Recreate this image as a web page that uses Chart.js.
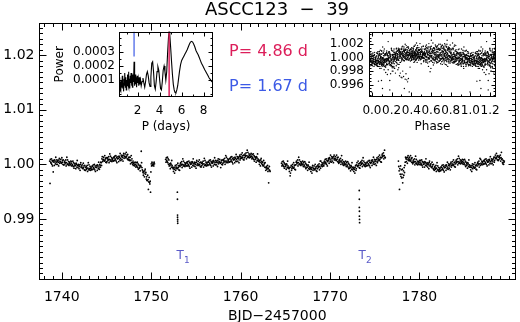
<!DOCTYPE html>
<html>
<head>
<meta charset="utf-8">
<script src="https://cdn.jsdelivr.net/npm/chart.js@4.4.1/dist/chart.umd.min.js"></script>
<style>
  body { margin: 0; background: #fff; }
  #wrap { position: relative; width: 520px; height: 322px; background: #fff; }
  canvas { position: absolute; top: 0; }
</style>
</head>
<body>
<div id="wrap">
  <canvas id="main" width="520" height="322" style="left:0"></canvas>
  <canvas id="per" width="181" height="140" style="left:49px"></canvas>
  <canvas id="pha" width="200" height="140" style="left:320px"></canvas>
</div>
<script>
// light curve, four segments. time = BJD-2457000, flux given as (flux - 1) x 1e4
const timeA = [1738.65,1738.69,1738.73,1738.77,1738.81,1738.85,1738.89,1738.93,1738.97,1739.01,
  1739.05,1739.09,1739.13,1739.17,1739.21,1739.25,1739.29,1739.33,1739.37,1739.41,
  1739.45,1739.49,1739.53,1739.57,1739.61,1739.65,1739.69,1739.73,1739.77,1739.81,
  1739.85,1739.89,1739.93,1739.97,1740.01,1740.05,1740.09,1740.13,1740.17,1740.21,
  1740.25,1740.29,1740.33,1740.37,1740.41,1740.45,1740.49,1740.53,1740.57,1740.61,
  1740.65,1740.69,1740.73,1740.77,1740.81,1740.85,1740.89,1740.93,1740.97,1741.01,
  1741.05,1741.09,1741.13,1741.17,1741.21,1741.25,1741.29,1741.33,1741.37,1741.41,
  1741.45,1741.49,1741.53,1741.57,1741.61,1741.65,1741.69,1741.73,1741.77,1741.81,
  1741.85,1741.89,1741.93,1741.97,1742.01,1742.05,1742.09,1742.13,1742.17,1742.21,
  1742.25,1742.29,1742.33,1742.37,1742.41,1742.45,1742.49,1742.53,1742.57,1742.61,
  1742.65,1742.69,1742.73,1742.77,1742.81,1742.85,1742.89,1742.93,1742.97,1743.01,
  1743.05,1743.09,1743.13,1743.17,1743.21,1743.25,1743.29,1743.33,1743.37,1743.41,
  1743.45,1743.49,1743.53,1743.57,1743.61,1743.65,1743.69,1743.73,1743.77,1743.81,
  1743.85,1743.89,1743.93,1743.97,1744.01,1744.05,1744.09,1744.13,1744.17,1744.21,
  1744.25,1744.29,1744.33,1744.37,1744.41,1744.45,1744.49,1744.53,1744.57,1744.61,
  1744.65,1744.69,1744.73,1744.77,1744.81,1744.85,1744.89,1744.93,1744.97,1745.01,
  1745.05,1745.09,1745.13,1745.17,1745.21,1745.25,1745.29,1745.33,1745.37,1745.41,
  1745.45,1745.49,1745.53,1745.57,1745.61,1745.65,1745.69,1745.73,1745.77,1745.81,
  1745.85,1745.89,1745.93,1745.97,1746.01,1746.05,1746.09,1746.13,1746.17,1746.21,
  1746.25,1746.29,1746.33,1746.37,1746.41,1746.45,1746.49,1746.53,1746.57,1746.61,
  1746.65,1746.69,1746.73,1746.77,1746.81,1746.85,1746.89,1746.93,1746.97,1747.01,
  1747.05,1747.09,1747.13,1747.17,1747.21,1747.25,1747.29,1747.33,1747.37,1747.41,
  1747.45,1747.49,1747.53,1747.57,1747.61,1747.65,1747.69,1747.73,1747.77,1747.81,
  1747.85,1747.89,1747.93,1747.97,1748.01,1748.05,1748.09,1748.13,1748.17,1748.21,
  1748.25,1748.29,1748.33,1748.37,1748.41,1748.45,1748.49,1748.53,1748.57,1748.61,
  1748.65,1748.69,1748.73,1748.77,1748.81,1748.85,1748.89,1748.93,1748.97,1749.01,
  1749.05,1749.09,1749.13,1749.17,1749.21,1749.25,1749.29,1749.33,1749.37,1749.41,
  1749.45,1749.49,1749.53,1749.57,1749.61,1749.65,1749.69,1749.73,1749.77,1749.81,
  1749.85,1749.89,1749.93,1749.97,1750.01,1750.05,1750.09,1750.13,1750.17,1750.21,
  1750.25,1750.29,1750.33,1750.37];
const fluxA = [6,-35,9,4,2,10,0,7,-3,5,
  -14,7,4,-2,8,6,1,13,4,0,
  8,5,0,7,4,-3,8,11,2,5,
  5,9,3,2,12,4,7,0,8,-1,
  -1,4,6,1,3,8,-3,3,13,0,
  8,1,-1,5,-2,2,4,0,-1,6,
  2,-3,5,0,-2,6,-4,3,-7,1,
  -3,1,-2,-8,2,0,-5,7,-2,-6,
  0,-3,-8,-1,-4,-11,0,3,-6,-3,
  -5,-1,-7,-8,2,-6,-3,-10,-2,-11,
  -11,-6,-4,-9,-7,-2,-13,-7,3,-10,
  -1,-8,-10,-4,-11,-7,-5,-9,-10,-3,
  -4,-9,-1,-6,-8,0,-10,-3,-13,-5,
  -6,-2,-5,-11,-1,-3,-8,4,-5,-9,
  0,-2,-5,4,3,-2,10,14,5,8,
  9,13,7,6,16,8,11,4,12,3,
  5,10,12,7,9,14,3,9,19,6,
  15,8,6,12,5,9,11,7,6,13,
  12,7,15,10,8,16,6,13,3,11,
  10,14,11,5,15,13,8,20,11,7,
  17,14,9,16,13,6,17,20,11,14,
  15,19,13,12,22,14,17,10,18,9,
  8,12,13,7,8,13,1,7,16,3,
  10,3,0,6,-2,2,3,-1,-3,4,
  0,-5,3,-2,-4,4,-6,1,-9,-1,
  -7,-3,-6,-12,-2,-4,24,3,-6,-10,
  -12,-15,-20,-13,-16,-23,-12,-9,-18,-15,
  -27,-23,-29,-30,-20,-28,-46,-32,-24,-33,
  -36,-31,-51,-14,1,-3,4,-2,-1,2,
  0,-3,4,1];

const timeB = [1751.62,1751.66,1751.70,1751.74,1751.78,1751.82,1751.86,1751.90,1751.94,1751.98,
  1752.02,1752.06,1752.10,1752.14,1752.18,1752.22,1752.26,1752.30,1752.34,1752.38,
  1752.42,1752.46,1752.50,1752.54,1752.58,1752.62,1752.66,1752.70,1752.74,1752.78,
  1752.82,1752.86,1752.90,1752.94,1752.98,1753.02,1753.06,1753.10,1753.14,1753.18,
  1753.22,1753.26,1753.30,1753.34,1753.38,1753.42,1753.46,1753.50,1753.54,1753.58,
  1753.62,1753.66,1753.70,1753.74,1753.78,1753.82,1753.86,1753.90,1753.94,1753.98,
  1754.02,1754.06,1754.10,1754.14,1754.18,1754.22,1754.26,1754.30,1754.34,1754.38,
  1754.42,1754.46,1754.50,1754.54,1754.58,1754.62,1754.66,1754.70,1754.74,1754.78,
  1754.82,1754.86,1754.90,1754.94,1754.98,1755.02,1755.06,1755.10,1755.14,1755.18,
  1755.22,1755.26,1755.30,1755.34,1755.38,1755.42,1755.46,1755.50,1755.54,1755.58,
  1755.62,1755.66,1755.70,1755.74,1755.78,1755.82,1755.86,1755.90,1755.94,1755.98,
  1756.02,1756.06,1756.10,1756.14,1756.18,1756.22,1756.26,1756.30,1756.34,1756.38,
  1756.42,1756.46,1756.50,1756.54,1756.58,1756.62,1756.66,1756.70,1756.74,1756.78,
  1756.82,1756.86,1756.90,1756.94,1756.98,1757.02,1757.06,1757.10,1757.14,1757.18,
  1757.22,1757.26,1757.30,1757.34,1757.38,1757.42,1757.46,1757.50,1757.54,1757.58,
  1757.62,1757.66,1757.70,1757.74,1757.78,1757.82,1757.86,1757.90,1757.94,1757.98,
  1758.02,1758.06,1758.10,1758.14,1758.18,1758.22,1758.26,1758.30,1758.34,1758.38,
  1758.42,1758.46,1758.50,1758.54,1758.58,1758.62,1758.66,1758.70,1758.74,1758.78,
  1758.82,1758.86,1758.90,1758.94,1758.98,1759.02,1759.06,1759.10,1759.14,1759.18,
  1759.22,1759.26,1759.30,1759.34,1759.38,1759.42,1759.46,1759.50,1759.54,1759.58,
  1759.62,1759.66,1759.70,1759.74,1759.78,1759.82,1759.86,1759.90,1759.94,1759.98,
  1760.02,1760.06,1760.10,1760.14,1760.18,1760.22,1760.26,1760.30,1760.34,1760.38,
  1760.42,1760.46,1760.50,1760.54,1760.58,1760.62,1760.66,1760.70,1760.74,1760.78,
  1760.82,1760.86,1760.90,1760.94,1760.98,1761.02,1761.06,1761.10,1761.14,1761.18,
  1761.22,1761.26,1761.30,1761.34,1761.38,1761.42,1761.46,1761.50,1761.54,1761.58,
  1761.62,1761.66,1761.70,1761.74,1761.78,1761.82,1761.86,1761.90,1761.94,1761.98,
  1762.02,1762.06,1762.10,1762.14,1762.18,1762.22,1762.26,1762.30,1762.34,1762.38,
  1762.42,1762.46,1762.50,1762.54,1762.58,1762.62,1762.66,1762.70,1762.74,1762.78,
  1762.82,1762.86,1762.90,1762.94,1762.98,1763.02,1763.06,1763.10,1763.14,1763.18,
  1763.22,1763.26,1763.30];
const fluxB = [9,4,12,7,5,13,3,10,0,8,
  -3,1,-2,-8,2,0,-5,7,-2,-6,
  -5,-8,-13,-6,-9,-16,-5,-2,-11,-8,
  -5,-1,-7,-8,2,-6,-3,-10,-2,-11,
  -4,1,3,-2,0,5,-6,0,10,-3,
  6,-1,-3,3,-4,0,2,-2,-3,4,
  2,-3,5,0,-2,6,-4,3,-7,1,
  0,4,1,-5,5,3,-2,10,1,-3,
  4,1,-4,3,0,-7,4,7,-2,1,
  1,5,-1,-2,8,0,3,-4,4,-5,
  -3,2,4,-1,1,6,-5,1,11,-2,
  7,0,-2,4,-3,1,3,-1,-2,5,
  4,-1,7,2,0,8,-2,5,-5,3,
  2,6,3,-3,7,5,0,12,3,-1,
  7,4,-1,6,3,-4,7,10,1,4,
  5,9,3,2,-6,4,7,0,8,-1,
  2,7,9,4,6,11,0,6,16,3,
  13,6,4,10,3,7,9,5,4,11,
  10,5,13,8,6,14,4,11,1,9,
  8,12,9,3,13,11,6,18,9,5,
  14,11,6,13,10,3,14,17,8,11,
  14,18,12,11,21,13,16,9,17,8,
  12,17,19,14,16,21,10,16,26,13,
  22,15,13,19,12,16,18,14,13,20,
  15,10,18,13,11,19,9,16,6,14,
  9,13,10,4,14,12,7,19,10,6,
  8,5,0,7,4,-3,8,11,2,5,
  0,4,-2,-3,7,-1,2,-5,3,-6,
  -11,-6,-4,-9,-7,-2,-13,-7,-34,-10,
  -4,-11,-13];

const timeC = [1764.58,1764.62,1764.66,1764.70,1764.74,1764.78,1764.82,1764.86,1764.90,1764.94,
  1764.98,1765.02,1765.06,1765.10,1765.14,1765.18,1765.22,1765.26,1765.30,1765.34,
  1765.38,1765.42,1765.46,1765.50,1765.54,1765.58,1765.62,1765.66,1765.70,1765.74,
  1765.78,1765.82,1765.86,1765.90,1765.94,1765.98,1766.02,1766.06,1766.10,1766.14,
  1766.18,1766.22,1766.26,1766.30,1766.34,1766.38,1766.42,1766.46,1766.50,1766.54,
  1766.58,1766.62,1766.66,1766.70,1766.74,1766.78,1766.82,1766.86,1766.90,1766.94,
  1766.98,1767.02,1767.06,1767.10,1767.14,1767.18,1767.22,1767.26,1767.30,1767.34,
  1767.38,1767.42,1767.46,1767.50,1767.54,1767.58,1767.62,1767.66,1767.70,1767.74,
  1767.78,1767.82,1767.86,1767.90,1767.94,1767.98,1768.02,1768.06,1768.10,1768.14,
  1768.18,1768.22,1768.26,1768.30,1768.34,1768.38,1768.42,1768.46,1768.50,1768.54,
  1768.58,1768.62,1768.66,1768.70,1768.74,1768.78,1768.82,1768.86,1768.90,1768.94,
  1768.98,1769.02,1769.06,1769.10,1769.14,1769.18,1769.22,1769.26,1769.30,1769.34,
  1769.38,1769.42,1769.46,1769.50,1769.54,1769.58,1769.62,1769.66,1769.70,1769.74,
  1769.78,1769.82,1769.86,1769.90,1769.94,1769.98,1770.02,1770.06,1770.10,1770.14,
  1770.18,1770.22,1770.26,1770.30,1770.34,1770.38,1770.42,1770.46,1770.50,1770.54,
  1770.58,1770.62,1770.66,1770.70,1770.74,1770.78,1770.82,1770.86,1770.90,1770.94,
  1770.98,1771.02,1771.06,1771.10,1771.14,1771.18,1771.22,1771.26,1771.30,1771.34,
  1771.38,1771.42,1771.46,1771.50,1771.54,1771.58,1771.62,1771.66,1771.70,1771.74,
  1771.78,1771.82,1771.86,1771.90,1771.94,1771.98,1772.02,1772.06,1772.10,1772.14,
  1772.18,1772.22,1772.26,1772.30,1772.34,1772.38,1772.42,1772.46,1772.50,1772.54,
  1772.58,1772.62,1772.66,1772.70,1772.74,1772.78,1772.82,1772.86,1772.90,1772.94,
  1772.98,1773.02,1773.06,1773.10,1773.14,1773.18,1773.22,1773.26,1773.30,1773.34,
  1773.38,1773.42,1773.46,1773.50,1773.54,1773.58,1773.62,1773.66,1773.70,1773.74,
  1773.78,1773.82,1773.86,1773.90,1773.94,1773.98,1774.02,1774.06,1774.10,1774.14,
  1774.18,1774.22,1774.26,1774.30,1774.34,1774.38,1774.42,1774.46,1774.50,1774.54,
  1774.58,1774.62,1774.66,1774.70,1774.74,1774.78,1774.82,1774.86,1774.90,1774.94,
  1774.98,1775.02,1775.06,1775.10,1775.14,1775.18,1775.22,1775.26,1775.30,1775.34,
  1775.38,1775.42,1775.46,1775.50,1775.54,1775.58,1775.62,1775.66,1775.70,1775.74,
  1775.78,1775.82,1775.86,1775.90,1775.94,1775.98,1776.02,1776.06,1776.10,1776.14,
  1776.18];
const fluxC = [2,-3,5,0,-2,6,-4,3,-7,1,
  -4,0,-3,-9,1,-1,-6,6,-3,-7,
  -5,-8,-13,-6,-21,-16,-5,-2,-11,-8,
  -4,0,-6,-7,3,-5,-2,-9,-1,-10,
  -1,4,6,1,3,8,-3,3,13,0,
  8,1,-1,5,-2,2,4,0,-1,6,
  1,-4,4,-1,-3,5,-5,2,-8,0,
  -6,-2,-5,-11,-1,-3,-8,4,-5,-9,
  -5,-8,-13,-6,-9,-16,-5,-2,-11,-8,
  -7,-3,-9,-10,0,-8,-5,-12,-4,-13,
  -8,-3,-1,-6,-4,1,-10,-4,6,-7,
  6,-1,-3,3,-4,0,2,-2,-3,4,
  6,1,9,4,2,10,0,7,-3,5,
  7,11,8,2,12,10,5,17,8,4,
  14,11,6,13,10,3,14,17,8,11,
  10,14,8,7,17,9,12,5,13,4,
  2,7,9,4,6,11,0,6,16,3,
  8,1,-1,5,-2,2,4,0,-1,6,
  1,-4,4,-1,-3,5,-5,2,-8,0,
  -7,-3,-6,-12,-2,-4,-9,3,-6,-10,
  -5,-8,-13,-6,-9,-16,-5,-2,-11,-8,
  -1,3,-3,-4,6,-2,1,-6,2,-7,
  -2,3,5,0,2,7,-4,2,12,-1,
  6,-1,-3,3,-4,0,2,-2,-3,4,
  3,-2,6,1,-1,7,-3,4,-6,2,
  3,7,4,-2,8,6,1,13,4,0,
  9,6,1,8,5,-2,9,12,3,6,
  10,14,8,7,17,9,12,5,13,4,
  12,17,19,14,16,21,10,16,26,13,
  12];

const timeD = [1777.65,1777.69,1777.73,1777.77,1777.81,1777.85,1777.89,1777.93,1777.97,1778.01,
  1778.05,1778.09,1778.13,1778.17,1778.21,1778.25,1778.29,1778.33,1778.37,1778.41,
  1778.45,1778.49,1778.53,1778.57,1778.61,1778.65,1778.69,1778.73,1778.77,1778.81,
  1778.85,1778.89,1778.93,1778.97,1779.01,1779.05,1779.09,1779.13,1779.17,1779.21,
  1779.25,1779.29,1779.33,1779.37,1779.41,1779.45,1779.49,1779.53,1779.57,1779.61,
  1779.65,1779.69,1779.73,1779.77,1779.81,1779.85,1779.89,1779.93,1779.97,1780.01,
  1780.05,1780.09,1780.13,1780.17,1780.21,1780.25,1780.29,1780.33,1780.37,1780.41,
  1780.45,1780.49,1780.53,1780.57,1780.61,1780.65,1780.69,1780.73,1780.77,1780.81,
  1780.85,1780.89,1780.93,1780.97,1781.01,1781.05,1781.09,1781.13,1781.17,1781.21,
  1781.25,1781.29,1781.33,1781.37,1781.41,1781.45,1781.49,1781.53,1781.57,1781.61,
  1781.65,1781.69,1781.73,1781.77,1781.81,1781.85,1781.89,1781.93,1781.97,1782.01,
  1782.05,1782.09,1782.13,1782.17,1782.21,1782.25,1782.29,1782.33,1782.37,1782.41,
  1782.45,1782.49,1782.53,1782.57,1782.61,1782.65,1782.69,1782.73,1782.77,1782.81,
  1782.85,1782.89,1782.93,1782.97,1783.01,1783.05,1783.09,1783.13,1783.17,1783.21,
  1783.25,1783.29,1783.33,1783.37,1783.41,1783.45,1783.49,1783.53,1783.57,1783.61,
  1783.65,1783.69,1783.73,1783.77,1783.81,1783.85,1783.89,1783.93,1783.97,1784.01,
  1784.05,1784.09,1784.13,1784.17,1784.21,1784.25,1784.29,1784.33,1784.37,1784.41,
  1784.45,1784.49,1784.53,1784.57,1784.61,1784.65,1784.69,1784.73,1784.77,1784.81,
  1784.85,1784.89,1784.93,1784.97,1785.01,1785.05,1785.09,1785.13,1785.17,1785.21,
  1785.25,1785.29,1785.33,1785.37,1785.41,1785.45,1785.49,1785.53,1785.57,1785.61,
  1785.65,1785.69,1785.73,1785.77,1785.81,1785.85,1785.89,1785.93,1785.97,1786.01,
  1786.05,1786.09,1786.13,1786.17,1786.21,1786.25,1786.29,1786.33,1786.37,1786.41,
  1786.45,1786.49,1786.53,1786.57,1786.61,1786.65,1786.69,1786.73,1786.77,1786.81,
  1786.85,1786.89,1786.93,1786.97,1787.01,1787.05,1787.09,1787.13,1787.17,1787.21,
  1787.25,1787.29,1787.33,1787.37,1787.41,1787.45,1787.49,1787.53,1787.57,1787.61,
  1787.65,1787.69,1787.73,1787.77,1787.81,1787.85,1787.89,1787.93,1787.97,1788.01,
  1788.05,1788.09,1788.13,1788.17,1788.21,1788.25,1788.29,1788.33,1788.37,1788.41,
  1788.45,1788.49,1788.53,1788.57,1788.61,1788.65,1788.69,1788.73,1788.77,1788.81,
  1788.85,1788.89,1788.93,1788.97,1789.01,1789.05,1789.09,1789.13,1789.17,1789.21,
  1789.25,1789.29,1789.33,1789.37,1789.41,1789.45,1789.49];
const fluxD = [6,-4,-12,-46,-8,-18,-3,-22,-10,-25,
  -18,-9,-34,-24,-12,-20,-6,-15,-2,4,
  13,10,5,12,9,2,13,16,7,10,
  9,13,7,6,16,8,11,4,12,3,
  1,6,8,3,5,10,-1,5,15,2,
  9,2,0,6,-1,3,5,1,0,7,
  4,-1,7,2,0,8,-2,5,-5,3,
  0,4,1,-5,5,3,-2,10,1,-3,
  3,0,-5,2,-1,-8,3,6,-3,0,
  -3,1,-5,-6,4,-4,-1,-8,0,-9,
  -11,-6,-4,-9,-7,-2,-13,-7,3,-10,
  -3,-10,-12,-6,-13,-9,-7,-11,-12,-5,
  -5,-10,-2,-7,-9,-1,-11,-4,-14,-6,
  -6,-2,-5,-11,-1,-3,-8,4,-5,-9,
  1,-2,-7,0,-3,-10,1,4,-5,-2,
  1,5,-1,-2,8,0,3,-4,4,-5,
  1,6,8,3,5,10,-1,5,15,2,
  11,4,2,8,1,5,7,3,2,9,
  5,0,8,3,1,9,-1,6,-4,4,
  -2,2,-1,-7,3,1,-4,8,-1,-5,
  -2,-5,-10,-3,-6,-13,-2,1,-8,-5,
  -4,0,-6,-7,3,-5,-2,-9,-1,-10,
  -3,2,4,-1,1,6,-5,1,11,-2,
  9,2,0,6,-1,3,5,1,0,7,
  6,1,9,4,2,10,0,7,-3,5,
  4,8,5,-1,9,7,2,14,5,1,
  10,7,2,9,6,-1,10,13,4,7,
  13,17,11,10,20,12,15,8,16,7,
  8,13,15,10,12,17,6,12,22,9,
  10,3,1,7,0,4,6];

// points inside the two single transits
const transitTimes = [1752.95, 1773.29];
const tr1Time = [1752.93,1752.94,1752.95,1752.95,1752.96,1752.96,1752.97];
const tr1Flux = [-51,-64,-93,-97,-101,-104,-108];
const tr2Time = [1773.27,1773.28,1773.28,1773.29,1773.29,1773.30,1773.31];
const tr2Flux = [-48,-64,-79,-86,-95,-101,-107];

// periodogram (power x 1e-4) against trial period in days
const perPeriod = [0.32,0.36,0.40,0.44,0.48,0.52,0.56,0.60,0.64,0.68,0.72,0.76,0.80,0.84,0.88,0.92,0.96,1.00,
  1.04,1.08,1.12,1.16,1.20,1.24,1.28,1.32,1.36,1.40,1.44,1.48,1.52,1.56,1.60,1.64,1.67,1.70,1.74,1.78,
  1.82,1.86,1.90,1.95,2.00,2.05,2.10,2.15,2.20,2.26,2.32,2.40,2.48,2.56,2.64,2.72,2.80,2.88,2.96,3.04,
  3.12,3.20,3.28,3.36,3.44,3.52,3.60,3.68,3.76,3.84,3.92,4.00,4.08,4.16,4.24,4.32,4.40,4.48,4.56,4.64,
  4.72,4.80,4.86,4.92,5.00,5.08,5.16,5.24,5.32,5.40,5.48,5.56,5.64,5.72,5.80,5.90,6.00,6.10,6.20,6.30,
  6.40,6.50,6.60,6.70,6.80,6.90,7.00,7.10,7.20,7.30,7.40,7.50,7.60,7.70,7.80,7.90,8.00,8.10,8.20,8.30,
  8.40,8.50,8.60,8.70,8.80];
const perPower = [0.4,1.2,0.3,0.9,0.2,1.0,0.5,1.3,0.4,0.8,0.2,1.1,0.6,1.5,0.5,1.2,0.3,1.0,
  0.6,1.4,0.7,1.6,0.5,1.1,0.4,1.3,0.8,1.5,0.6,1.2,0.5,1.4,0.9,1.3,2.3,1.0,0.6,1.4,
  0.7,1.2,0.5,1.3,0.8,1.1,0.6,1.2,0.7,1.0,0.6,0.9,1.15,0.8,0.5,0.9,1.4,1.6,1.3,0.8,
  0.55,1.2,2.2,2.3,1.6,0.6,0.35,0.9,1.6,1.95,1.7,1.0,0.4,0.3,0.9,1.7,2.0,1.6,1.0,1.6,
  2.9,4.0,4.45,4.2,3.3,2.3,1.4,0.7,0.3,0.12,0.1,0.3,0.6,1.1,1.6,2.1,2.4,2.55,2.7,2.85,
  3.0,3.15,3.35,3.55,3.7,3.75,3.7,3.55,3.35,3.1,2.95,2.8,2.6,2.4,2.2,2.05,1.9,1.73,1.6,1.45,
  1.3,1.15,1.05,0.93,0.85];

// detected periods (days) and the lower end of each marker line (power x 1e-4)
const periods = [4.86, 1.67];
const markerLow = [-0.2, 2.68];

// axis ticks
const lcTicksX = [1740, 1750, 1760, 1770, 1780];
const lcTicksY = [0.99, 1.00, 1.01, 1.02];
const perTicksX = [2, 4, 6, 8];
const perTicksY = [0.0001, 0.0002, 0.0003];
const phaTicksX = [0.0, 0.2, 0.4, 0.6, 0.8, 1.0, 1.2];
const phaTicksY = [0.996, 0.998, 1.000, 1.002];

const RED = '#dc1e5a';
const BLUE = '#3c5ae6';
const TLAB = '#5a5ac8';
const FONT = 'DejaVu Sans';

// ---- build point lists
const lcTime = [].concat(timeA, timeB, timeC, timeD, tr1Time, tr2Time);
const lcFlux = [].concat(fluxA, fluxB, fluxC, fluxD, tr1Flux, tr2Flux);
const lcPoints = lcTime.map((t, i) => ({ x: t, y: 1 + lcFlux[i] * 1e-4 }));

// fold on the main period for the inset
const phasePoints = [];
lcTime.forEach((t, i) => {
  let ph = ((t - transitTimes[0]) / periods[0]) % 1;
  if (ph < 0) ph += 1;
  const y = 1 + lcFlux[i] * 1e-4;
  phasePoints.push({ x: ph, y: y });
  if (ph < 0.27) phasePoints.push({ x: ph + 1, y: y });
  if (ph > 0.97) phasePoints.push({ x: ph - 1, y: y });
});

const perPoints = perPeriod.map((p, i) => ({ x: p, y: perPower[i] * 1e-4 }));

// IDL-like frame: box with inward ticks on all four sides
const idlFrame = {
  id: 'idlFrame',
  afterDatasetsDraw(chart, args, o) {
    const { ctx, chartArea: a } = chart;
    const xs = chart.scales.x, ys = chart.scales.y;
    const L = Math.round(a.left) + 0.5, R = Math.round(a.right) - 0.5;
    const T = Math.round(a.top) + 0.5, B = Math.round(a.bottom) - 0.5;
    ctx.save();
    ctx.strokeStyle = '#000';
    ctx.lineWidth = 1;
    ctx.strokeRect(L, T, R - L, B - T);
    ctx.beginPath();
    const xTick = (v, len) => {
      const p = Math.round(xs.getPixelForValue(v)) + 0.5;
      if (p < L || p > R) return;
      ctx.moveTo(p, B); ctx.lineTo(p, B - len);
      ctx.moveTo(p, T); ctx.lineTo(p, T + len);
    };
    const yTick = (v, len) => {
      const p = Math.round(ys.getPixelForValue(v)) + 0.5;
      if (p < T || p > B) return;
      ctx.moveTo(L, p); ctx.lineTo(L + len, p);
      ctx.moveTo(R, p); ctx.lineTo(R - len, p);
    };
    for (let k = Math.ceil(xs.min / o.xMinor); k * o.xMinor <= xs.max; k++) xTick(k * o.xMinor, o.minor);
    for (let k = Math.ceil(ys.min / o.yMinor); k * o.yMinor <= ys.max; k++) yTick(k * o.yMinor, o.minor);
    xs.ticks.forEach(t => xTick(t.value, o.major));
    ys.ticks.forEach(t => yTick(t.value, o.major));
    ctx.stroke();
    ctx.restore();
  }
};

// free text of the main panel
const mainText = {
  id: 'mainText',
  afterDraw(chart) {
    const { ctx } = chart;
    const xs = chart.scales.x;
    ctx.save();
    ctx.textBaseline = 'middle';
    ctx.fillStyle = '#000';
    ctx.textAlign = 'center';
    ctx.font = '18px ' + FONT;
    ctx.fillText('ASCC123  \u2212  39', 277, 10);
    ctx.textAlign = 'left';
    ctx.font = '16px ' + FONT;
    ctx.fillStyle = RED;
    ctx.fillText('P= ' + periods[0].toFixed(2) + ' d', 229, 52);
    ctx.fillStyle = BLUE;
    ctx.fillText('P= ' + periods[1].toFixed(2) + ' d', 229, 87);
    ctx.fillStyle = TLAB;
    transitTimes.forEach((t, i) => {
      const px = xs.getPixelForValue(t) - 1;
      ctx.font = '12px ' + FONT;
      ctx.fillText('T', px, 256);
      ctx.font = '9px ' + FONT;
      ctx.fillText(String(i + 1), px + 7.5, 261);
    });
    ctx.restore();
  }
};

const tickFont = size => ({ family: FONT, size: size });
const fixTicks = list => (s => { s.ticks = list.map(v => ({ value: v })); });

Chart.defaults.animation = false;
Chart.defaults.responsive = false;
Chart.defaults.devicePixelRatio = 1;
Chart.defaults.color = '#000';
Chart.defaults.plugins.legend.display = false;
Chart.defaults.plugins.tooltip.enabled = false;

// main light curve
new Chart(document.getElementById('main'), {
  type: 'scatter',
  data: { datasets: [{ data: lcPoints, pointRadius: 0.9, backgroundColor: '#000', borderWidth: 0 }] },
  options: {
    layout: { padding: { top: 23, right: 1, bottom: 0, left: 0 } },
    scales: {
      x: {
        type: 'linear', min: 1737.4, max: 1790.8,
        afterBuildTicks: fixTicks(lcTicksX),
        afterFit: s => { s.height = 42; },
        grid: { display: false, drawTicks: false }, border: { display: false },
        ticks: { font: tickFont(14), padding: 9, maxRotation: 0, autoSkip: false, callback: v => String(v) },
        title: { display: true, text: 'BJD\u22122457000', font: tickFont(14), padding: { top: 0, bottom: -3 } }
      },
      y: {
        type: 'linear', min: 0.9788, max: 1.0259,
        afterBuildTicks: fixTicks(lcTicksY),
        afterFit: s => { s.width = 38.5; },
        grid: { display: false, drawTicks: false }, border: { display: false },
        ticks: { font: tickFont(14), padding: 4, autoSkip: false, callback: v => v.toFixed(2) }
      }
    },
    plugins: { idlFrame: { major: 7, minor: 3.5, xMinor: 1, yMinor: 0.001 } }
  },
  plugins: [idlFrame, mainText]
});

// periodogram inset
const perMin = -0.00002, perMax = 0.000445;
new Chart(document.getElementById('per'), {
  type: 'scatter',
  data: {
    datasets: [
      { data: [{ x: periods[0], y: markerLow[0] * 1e-4 }, { x: periods[0], y: perMax }], showLine: true,
        borderColor: RED, borderWidth: 1.5, pointRadius: 0 },
      { data: [{ x: periods[1], y: markerLow[1] * 1e-4 }, { x: periods[1], y: perMax }], showLine: true,
        borderColor: BLUE, borderWidth: 1.2, pointRadius: 0 },
      { data: perPoints, showLine: true, borderColor: '#000', borderWidth: 1.1, pointRadius: 0, tension: 0 }
    ]
  },
  options: {
    layout: { padding: { top: 31.5, right: 17, bottom: 2, left: 0 } },
    scales: {
      x: {
        type: 'linear', min: 0.3, max: 8.85,
        afterBuildTicks: fixTicks(perTicksX),
        afterFit: s => { s.height = 41; },
        grid: { display: false, drawTicks: false }, border: { display: false },
        ticks: { font: tickFont(12), padding: 7, maxRotation: 0, autoSkip: false, callback: v => String(v) },
        title: { display: true, text: 'P (days)', font: tickFont(12), padding: { top: 0, bottom: 4 } }
      },
      y: {
        type: 'linear', min: perMin, max: perMax,
        afterBuildTicks: fixTicks(perTicksY),
        afterFit: s => { s.width = 70; },
        grid: { display: false, drawTicks: false }, border: { display: false },
        ticks: { font: tickFont(12), padding: 4, autoSkip: false, callback: v => v.toFixed(4) },
        title: { display: true, text: 'Power', font: tickFont(12), padding: { top: 4, bottom: 0 } }
      }
    },
    plugins: { idlFrame: { major: 4, minor: 2, xMinor: 1, yMinor: 0.00005 } }
  },
  plugins: [idlFrame]
});

// phase-folded inset
new Chart(document.getElementById('pha'), {
  type: 'scatter',
  data: { datasets: [{ data: phasePoints, pointRadius: 0.7, backgroundColor: '#000', borderWidth: 0 }] },
  options: {
    layout: { padding: { top: 32, right: 24, bottom: 2, left: 0 } },
    scales: {
      x: {
        type: 'linear', min: -0.03, max: 1.26,
        afterBuildTicks: fixTicks(phaTicksX),
        afterFit: s => { s.height = 41; },
        grid: { display: false, drawTicks: false }, border: { display: false },
        ticks: { font: tickFont(12), padding: 7, maxRotation: 0, autoSkip: false, callback: v => v.toFixed(1) },
        title: { display: true, text: 'Phase', font: tickFont(12), padding: { top: 0, bottom: 4 } }
      },
      y: {
        type: 'linear', min: 0.99414, max: 1.00383,
        afterBuildTicks: fixTicks(phaTicksY),
        afterFit: s => { s.width = 49; },
        grid: { display: false, drawTicks: false }, border: { display: false },
        ticks: { font: tickFont(12), padding: 5, autoSkip: false, callback: v => v.toFixed(3) }
      }
    },
    plugins: { idlFrame: { major: 4, minor: 2, xMinor: 0.1, yMinor: 0.0005 } }
  },
  plugins: [idlFrame]
});
</script>
</body>
</html>
